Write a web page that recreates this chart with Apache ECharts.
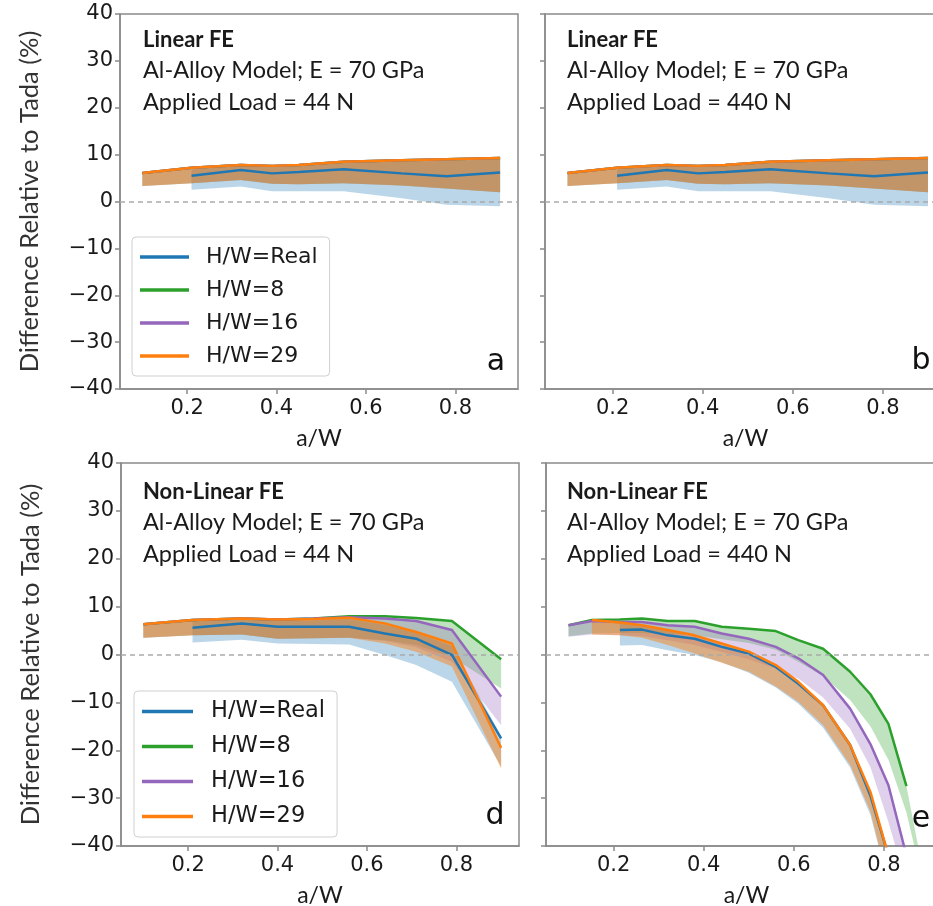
<!DOCTYPE html>
<html>
<head>
<meta charset="utf-8">
<script src="https://cdn.jsdelivr.net/npm/echarts@6/dist/echarts.min.js"></script>
<style>html,body{margin:0;padding:0;background:#fff}#c{width:933px;height:906px}</style>
</head>
<body>
<div id="c"></div>
<script>
// ---------- data ----------
const seriesNames = ['H/W=Real', 'H/W=8', 'H/W=16', 'H/W=29'];
const seriesColors = ['#1f77b4', '#2ca02c', '#9467bd', '#ff7f0e'];
const bandOpacity = [0.3, 0.3, 0.3, 0.45];
const xTicks = [0.2, 0.4, 0.6, 0.8];
const yTicks = [-40, -30, -20, -10, 0, 10, 20, 30, 40];
const panelLetters = ['a', 'b', 'd', 'e'];
const panelTitles = ['Linear FE', 'Linear FE', 'Non-Linear FE', 'Non-Linear FE'];
const panelLoads = ['Applied Load = 44 N', 'Applied Load = 440 N', 'Applied Load = 44 N', 'Applied Load = 440 N'];
const modelText = 'Al-Alloy Model; E = 70 GPa';

// Linear FE (panels a and b show the same curves); H/W = 8, 16, 29 coincide
const linX = [0.1, 0.21, 0.32, 0.39, 0.45, 0.55, 0.68, 0.78, 0.9];
const linHWMid = [6.1, 7.2, 7.8, 7.6, 7.8, 8.5, 8.8, 9.0, 9.3];
const linHWLow = [3.3, 3.9, 4.6, 3.8, 3.7, 3.9, 3.4, 2.8, 2.0];
const linRealX = [0.21, 0.32, 0.39, 0.45, 0.55, 0.68, 0.78, 0.9];
const linRealMid = [5.5, 6.7, 6.0, 6.3, 6.9, 6.0, 5.4, 6.2];
const linRealLow = [2.5, 3.2, 2.2, 2.2, 2.2, 0.7, -0.7, -1.0];
const linRealHigh = [7.0, 7.6, 7.4, 7.6, 8.3, 8.5, 8.7, 9.0];

// Non-linear FE, 44 N (panel d)
const d44X = [0.1, 0.21, 0.32, 0.40, 0.48, 0.56, 0.64, 0.71, 0.79, 0.9];
const d44RealX = [0.21, 0.32, 0.40, 0.48, 0.56, 0.64, 0.71, 0.79, 0.9];
const d44RealMid = [5.6, 6.5, 5.8, 5.8, 5.8, 4.4, 3.3, -0.1, -17.5];
const d44RealLow = [2.5, 3.1, 2.3, 2.2, 2.1, -0.1, -2.2, -5.7, -23.4];
const d44RealHigh = [7.0, 7.3, 7.0, 7.1, 7.4, 6.2, 4.5, 1.8, -17.0];
const d44H8Mid = [6.3, 7.2, 7.5, 7.3, 7.5, 8.0, 8.0, 7.6, 7.0, -1.0];
const d44H8Low = [3.5, 4.0, 4.2, 3.3, 3.4, 3.5, 3.0, 2.0, -0.5, -7.1];
const d44H16Mid = [6.3, 7.2, 7.5, 7.3, 7.5, 7.8, 7.5, 7.0, 5.1, -8.8];
const d44H16Low = [3.5, 4.0, 4.2, 3.3, 3.4, 3.5, 2.8, 1.5, -1.5, -14.8];
const d44H29Mid = [6.3, 7.2, 7.5, 7.3, 7.4, 7.7, 6.5, 4.7, 2.3, -19.5];
const d44H29Low = [3.5, 4.0, 4.2, 3.3, 3.4, 3.5, 2.3, 0.6, -2.5, -23.8];

// Non-linear FE, 440 N (panel e)
const e440H8X = [0.1, 0.152, 0.214, 0.263, 0.32, 0.38, 0.44, 0.5, 0.56, 0.61, 0.665, 0.725, 0.77, 0.81, 0.85];
const e440H8Mid = [6.1, 7.2, 7.3, 7.5, 7.0, 7.0, 5.8, 5.4, 4.9, 3.0, 1.2, -3.6, -8.3, -14.5, -27.5];
const e440H8BandX = [0.1, 0.152, 0.214, 0.263, 0.32, 0.38, 0.44, 0.5, 0.56, 0.61, 0.665, 0.725, 0.77, 0.81, 0.85, 0.88];
const e440H8High = [6.1, 7.2, 7.3, 7.5, 7.0, 7.0, 5.8, 5.4, 4.9, 3.0, 1.2, -3.6, -8.3, -14.5, -27.5, -42];
const e440H8Low = [3.8, 4.4, 4.5, 4.5, 4.3, 4.0, 3.2, 2.4, 1.0, -1.5, -4.5, -9.5, -15.0, -22.0, -33.0, -45.0];
const e440H16X = [0.1, 0.152, 0.214, 0.263, 0.32, 0.38, 0.44, 0.5, 0.56, 0.61, 0.665, 0.725, 0.77, 0.81, 0.85];
const e440H16Mid = [6.1, 7.0, 6.8, 6.8, 6.1, 5.8, 4.4, 3.3, 1.6, -0.8, -4.3, -11.3, -18.7, -27.3, -42];
const e440H16Low = [3.7, 4.2, 4.0, 3.8, 3.0, 2.0, 0.5, -1.0, -3.0, -5.0, -9.0, -15.5, -23.5, -35, -48];
const e440H29X = [0.152, 0.214, 0.263, 0.32, 0.38, 0.44, 0.5, 0.56, 0.61, 0.665, 0.725, 0.77, 0.81];
const e440H29Mid = [7.2, 6.7, 6.1, 5.1, 4.0, 2.3, 0.6, -2.2, -5.7, -10.6, -18.9, -28.7, -42];
const e440H29Low = [4.2, 4.0, 3.5, 2.0, 0.2, -1.7, -3.6, -6.7, -9.9, -14.8, -23.1, -32.8, -48];
const e440RealX = [0.214, 0.263, 0.32, 0.38, 0.44, 0.5, 0.56, 0.61, 0.665, 0.725, 0.77, 0.81];
const e440RealMid = [5.1, 5.2, 4.0, 3.3, 1.6, 0.2, -2.6, -6.1, -10.6, -18.9, -29.5, -42];
const e440RealLow = [1.9, 2.0, 0.9, -0.1, -1.6, -3.8, -6.9, -10.3, -15.3, -23.6, -33.5, -48];
const e440RealHigh = [6.5, 6.2, 5.0, 4.0, 2.3, 0.6, -2.2, -5.7, -10.6, -18.9, -28.7, -42];

// per panel: [name index, line x, line y, band x, band low, band high]
const panels = [
  [[0, linRealX, linRealMid, linRealX, linRealLow, linRealHigh],
   [1, linX, linHWMid, linX, linHWLow, linHWMid],
   [2, linX, linHWMid, linX, linHWLow, linHWMid],
   [3, linX, linHWMid, linX, linHWLow, linHWMid]],
  [[0, linRealX, linRealMid, linRealX, linRealLow, linRealHigh],
   [1, linX, linHWMid, linX, linHWLow, linHWMid],
   [2, linX, linHWMid, linX, linHWLow, linHWMid],
   [3, linX, linHWMid, linX, linHWLow, linHWMid]],
  [[0, d44RealX, d44RealMid, d44RealX, d44RealLow, d44RealHigh],
   [1, d44X, d44H8Mid, d44X, d44H8Low, d44H8Mid],
   [2, d44X, d44H16Mid, d44X, d44H16Low, d44H16Mid],
   [3, d44X, d44H29Mid, d44X, d44H29Low, d44H29Mid]],
  [[0, e440RealX, e440RealMid, e440RealX, e440RealLow, e440RealHigh],
   [1, e440H8X, e440H8Mid, e440H8BandX, e440H8Low, e440H8High],
   [2, e440H16X, e440H16Mid, e440H16X, e440H16Low, e440H16Mid],
   [3, e440H29X, e440H29Mid, e440H29X, e440H29Low, e440H29Mid]]
];

// ---------- layout ----------
const gridBoxes = [
  {left: 120, top: 14, width: 398, height: 375},
  {left: 545, top: 14, width: 401, height: 375},
  {left: 121, top: 463, width: 398, height: 383},
  {left: 546, top: 463, width: 401, height: 383}
];
const axisGrey = '#8a8a8a';
const textCol = '#1a1a1a';
const tickFont = 'DejaVu Sans';
const labelFont = 'Lato';

const fmtY = v => (v < 0 ? '\u2212' + Math.abs(v) : String(v));

const grids = gridBoxes.map(g => Object.assign({show: true, borderColor: axisGrey, borderWidth: 1.5,
  containLabel: false, outerBoundsMode: 'none'}, g));

const xAxes = gridBoxes.map((g, i) => ({
  type: 'value', gridIndex: i, min: 0.05, max: 0.94,
  name: 'a/W', nameLocation: 'middle', nameGap: 38,
  nameTextStyle: {fontFamily: labelFont, fontSize: 23, color: textCol},
  axisLine: {show: true, onZero: false, lineStyle: {color: axisGrey, width: 1.5}},
  axisTick: {show: true, length: 5, lineStyle: {color: axisGrey, width: 1.5}, customValues: xTicks},
  axisLabel: {fontFamily: tickFont, fontSize: 21, color: textCol, margin: 9, customValues: xTicks,
              formatter: v => Number(v).toFixed(1)},
  splitLine: {show: false}
}));

const yAxes = gridBoxes.map((g, i) => ({
  type: 'value', gridIndex: i, min: -40, max: 40, interval: 10,
  name: (i === 0 || i === 2) ? 'Difference Relative to Tada (%)' : '',
  nameLocation: 'middle', nameGap: 77,
  nameTextStyle: {fontFamily: labelFont, fontSize: 25.5, color: '#333'},
  axisLine: {show: true, lineStyle: {color: axisGrey, width: 1.5}},
  axisTick: {show: true, length: 5, lineStyle: {color: axisGrey, width: 1.5}, customValues: yTicks},
  axisLabel: {show: (i === 0 || i === 2), fontFamily: tickFont, fontSize: 21, color: textCol, margin: 7,
              customValues: yTicks, formatter: fmtY},
  splitLine: {show: false}
}));

function bandSeries(gi, xs, lo, hi, color, op) {
  const rows = xs.map((x, k) => [x, lo[k], hi[k]]);
  return {
    type: 'custom', xAxisIndex: gi, yAxisIndex: gi, silent: true, z: 2,
    data: rows, encode: {x: 0, y: [1, 2]},
    renderItem(params, api) {
      if (params.dataIndex !== 0) return null;
      const up = rows.map(r => api.coord([r[0], r[2]]));
      const dn = rows.map(r => api.coord([r[0], r[1]])).reverse();
      const cs = params.coordSys;
      return {
        type: 'polygon',
        shape: {points: up.concat(dn)},
        style: {fill: color, opacity: op},
        clipPath: {type: 'rect', shape: {x: cs.x, y: cs.y, width: cs.width, height: cs.height}}
      };
    }
  };
}

const series = [];
panels.forEach((p, gi) => {
  p.forEach(([ni, lx, ly, bx, blo, bhi]) => {
    series.push(bandSeries(gi, bx, blo, bhi, seriesColors[ni], bandOpacity[ni]));
  });
  p.forEach(([ni, lx, ly], k) => {
    const color = seriesColors[ni];
    const line = {
      type: 'line', name: seriesNames[ni], xAxisIndex: gi, yAxisIndex: gi,
      data: lx.map((x, j) => [x, ly[j]]),
      showSymbol: false, symbol: 'none', clip: true, z: 2,
      color: color, itemStyle: {color: color},
      lineStyle: {color: color, width: 2.5},
      emphasis: {disabled: true}
    };
    if (k === p.length - 1) {
      line.markLine = {
        silent: true, symbol: 'none', label: {show: false}, animation: false,
        lineStyle: {type: [5, 4], color: '#aaaaaa', width: 1.5},
        data: [{yAxis: 0}]
      };
    }
    series.push(line);
  });
});

const legendCommon = {
  data: seriesNames, orient: 'vertical', icon: 'rect', itemWidth: 49, itemHeight: 3.5, itemGap: 11,
  padding: [9, 12, 9, 8], backgroundColor: '#fff', borderColor: '#d0d0d0', borderWidth: 1, borderRadius: 4,
  textStyle: {fontFamily: tickFont, fontSize: 22, color: textCol, padding: [0, 0, 0, 12]},
  selectedMode: false
};
const legends = [
  Object.assign({}, legendCommon, {left: 132, top: 237}),
  Object.assign({}, legendCommon, {left: 134, top: 691, itemWidth: 51, itemGap: 12,
    textStyle: {fontFamily: tickFont, fontSize: 22.5, color: textCol, padding: [0, 0, 0, 13]}})
];

// annotation texts
const textOffsets = [[143, 40], [567, 40], [143, 492], [567, 492]];
const graphics = [];
textOffsets.forEach(([x, y], i) => {
  graphics.push({type: 'text', style: {text: panelTitles[i], x: x, y: y, fontFamily: labelFont, fontWeight: 'bold', fontSize: 22, fill: textCol, verticalAlign: 'middle'}});
  graphics.push({type: 'text', style: {text: modelText, x: x, y: y + 30, fontFamily: labelFont, fontSize: 23.5, fill: textCol, verticalAlign: 'middle'}});
  graphics.push({type: 'text', style: {text: panelLoads[i], x: x, y: y + 62, fontFamily: labelFont, fontSize: 23.5, fill: textCol, verticalAlign: 'middle'}});
});
const letterPos = [[496, 362], [921, 361], [495, 816], [921, 819]];
letterPos.forEach(([x, y], i) => {
  graphics.push({type: 'text', style: {text: panelLetters[i], x: x, y: y, fontFamily: 'DejaVu Sans', fontSize: 30, fill: '#111', align: 'center', verticalAlign: 'middle'}});
});

const chart = echarts.init(document.getElementById('c'), null, {renderer: 'canvas'});
chart.setOption({
  animation: false,
  backgroundColor: '#fff',
  grid: grids,
  xAxis: xAxes,
  yAxis: yAxes,
  legend: legends,
  series: series,
  graphic: graphics
});
</script>
</body>
</html>
